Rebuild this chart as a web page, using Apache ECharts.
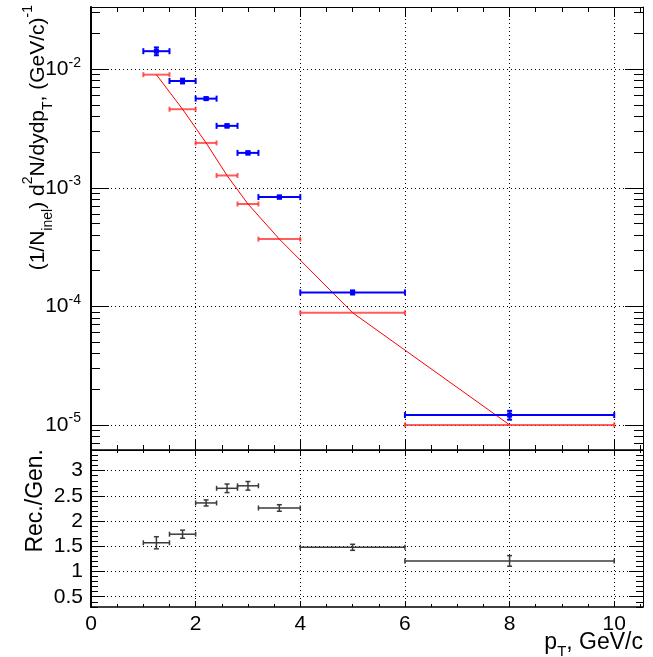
<!DOCTYPE html>
<html><head><meta charset="utf-8">
<script src="https://cdn.jsdelivr.net/npm/echarts@6/dist/echarts.min.js"></script>
<style>html,body{margin:0;padding:0;background:#fff}#c{width:653px;height:657px}</style>
</head><body><div id="c"></div>
<script>
// ---- data ----
const binLow = [1, 1.5, 2, 2.4, 2.8, 3.2, 4, 6];
const binHigh = [1.5, 2, 2.4, 2.8, 3.2, 4, 6, 10];
const binCenter = [1.25, 1.75, 2.2, 2.6, 3.0, 3.6, 5, 8];
const recValues = [0.0142, 0.00796, 0.00565, 0.00333, 0.00197, 0.000835, 0.000131, 0.0000121];
const recErrors = [0.00108, 0.00037, 0.00014, 0.000107, 0.000061, 0.000024, 0.0000052, 0.00000104];
const genValues = [0.0090, 0.0046, 0.00239, 0.00127, 0.00073, 0.000369, 0.0000883, 0.0000100];
const genErrors = [0, 0, 0, 0, 0, 0, 0, 0];
const ratioValues = [1.57, 1.74, 2.36, 2.65, 2.70, 2.26, 1.48, 1.21];
const ratioErrors = [0.12, 0.08, 0.06, 0.085, 0.085, 0.065, 0.06, 0.105];
// ---- ticks ----
const xMajorTicks = [0, 2, 4, 6, 8, 10];
const xMinorTicks = [0.5, 1, 1.5, 2.5, 3, 3.5, 4.5, 5, 5.5, 6.5, 7, 7.5, 8.5, 9, 9.5, 10.5];
const xLabels = ['0', '2', '4', '6', '8', '10'];
const yLogMajorTicks = [1e-5, 1e-4, 1e-3, 1e-2];
const yLogMinorTicks = [7e-6, 8e-6, 9e-6,
  2e-5, 3e-5, 4e-5, 5e-5, 6e-5, 7e-5, 8e-5, 9e-5,
  2e-4, 3e-4, 4e-4, 5e-4, 6e-4, 7e-4, 8e-4, 9e-4,
  2e-3, 3e-3, 4e-3, 5e-3, 6e-3, 7e-3, 8e-3, 9e-3,
  2e-2, 3e-2];
const ratioMajorTicks = [0.5, 1, 1.5, 2, 2.5, 3];
const ratioMinorTicks = [0.3, 0.4, 0.6, 0.7, 0.8, 0.9, 1.1, 1.2, 1.3, 1.4, 1.6, 1.7, 1.8, 1.9,
  2.1, 2.2, 2.3, 2.4, 2.6, 2.7, 2.8, 2.9, 3.1, 3.2, 3.3, 3.4];

const X_MIN = 0, X_MAX = 10.55;
const Y_MIN = 6.14e-6, Y_MAX = 0.0335;
const R_MIN = 0.296, R_MAX = 3.41;

const FONT = 'Liberation Sans, Arial, Helvetica, sans-serif';

function rows(vals, errs) {
  return binCenter.map((c, i) => [c, binLow[i], binHigh[i], vals[i], errs[i]]);
}

function makeRender(o) {
  return function (params, api) {
    const xc = api.value(0), xl = api.value(1), xh = api.value(2), y = api.value(3), e = api.value(4);
    const c = api.coord([xc, y]), l = api.coord([xl, y]), h = api.coord([xh, y]);
    const st = { stroke: o.color, lineWidth: o.width, fill: null };
    const ch = [
      { type: 'line', shape: { x1: l[0], y1: l[1], x2: h[0], y2: h[1] }, style: st },
      { type: 'line', shape: { x1: l[0], y1: l[1] - o.cap, x2: l[0], y2: l[1] + o.cap }, style: st },
      { type: 'line', shape: { x1: h[0], y1: h[1] - o.cap, x2: h[0], y2: h[1] + o.cap }, style: st }
    ];
    if (e > 0) {
      const t = api.coord([xc, y + e]), b = api.coord([xc, y - e]);
      ch.push({ type: 'line', shape: { x1: t[0], y1: t[1], x2: b[0], y2: b[1] }, style: st });
      ch.push({ type: 'line', shape: { x1: t[0] - o.vcap, y1: t[1], x2: t[0] + o.vcap, y2: t[1] }, style: st });
      ch.push({ type: 'line', shape: { x1: b[0] - o.vcap, y1: b[1], x2: b[0] + o.vcap, y2: b[1] }, style: st });
    }
    if (o.marker) {
      const m = o.marker;
      ch.push({ type: 'rect', shape: { x: c[0] - m, y: c[1] - m, width: 2 * m, height: 2 * m }, style: { fill: o.color } });
    }
    return { type: 'group', children: ch };
  };
}

const dotted = { color: '#000', width: 1, type: [1, 3] };

function xAxisSet(grid, tickMaj, tickMin, withLabels) {
  return [
    { gridIndex: grid, type: 'value', min: X_MIN, max: X_MAX, position: 'bottom',
      axisLine: { show: true, onZero: false, lineStyle: { color: '#000', width: 1.5 } },
      axisTick: { show: true, inside: true, length: tickMaj, customValues: xMajorTicks, lineStyle: { color: '#000' } },
      axisLabel: withLabels ? { show: true, customValues: xMajorTicks, fontSize: 21, fontFamily: FONT, color: '#000', margin: 7,
        formatter: v => xLabels[xMajorTicks.indexOf(Math.round(v))] } : { show: false },
      splitLine: { show: true, lineStyle: dotted } },
    { gridIndex: grid, type: 'value', min: X_MIN, max: X_MAX, position: 'bottom',
      axisLine: { show: false, onZero: false },
      axisTick: { show: true, inside: true, length: tickMin, customValues: xMinorTicks, lineStyle: { color: '#000' } },
      axisLabel: { show: false }, splitLine: { show: false } },
    { gridIndex: grid, type: 'value', min: X_MIN, max: X_MAX, position: 'top',
      axisLine: { show: true, onZero: false, lineStyle: { color: '#000', width: 1 } },
      axisTick: { show: true, inside: true, length: tickMaj, customValues: xMajorTicks, lineStyle: { color: '#000' } },
      axisLabel: { show: false }, splitLine: { show: false } },
    { gridIndex: grid, type: 'value', min: X_MIN, max: X_MAX, position: 'top',
      axisLine: { show: false, onZero: false },
      axisTick: { show: true, inside: true, length: tickMin, customValues: xMinorTicks, lineStyle: { color: '#000' } },
      axisLabel: { show: false }, splitLine: { show: false } }
  ];
}

function yAxisSet(grid, type, min, max, maj, minr, tickMaj, tickMin, label) {
  const base = { gridIndex: grid, type: type, min: min, max: max };
  if (type === 'log') base.logBase = 10;
  return [
    Object.assign({}, base, { position: 'left',
      axisLine: { show: true, onZero: false, lineStyle: { color: '#000', width: 2 } },
      axisTick: { show: true, inside: true, length: tickMaj, customValues: maj, lineStyle: { color: '#000' } },
      axisLabel: label, splitLine: { show: true, lineStyle: dotted } }),
    Object.assign({}, base, { position: 'left',
      axisLine: { show: false, onZero: false },
      axisTick: { show: true, inside: true, length: tickMin, customValues: minr, lineStyle: { color: '#000' } },
      axisLabel: { show: false }, splitLine: { show: false } }),
    Object.assign({}, base, { position: 'right',
      axisLine: { show: true, onZero: false, lineStyle: { color: '#000', width: 1 } },
      axisTick: { show: true, inside: true, length: tickMaj, customValues: maj, lineStyle: { color: '#000' } },
      axisLabel: { show: false }, splitLine: { show: false } }),
    Object.assign({}, base, { position: 'right',
      axisLine: { show: false, onZero: false },
      axisTick: { show: true, inside: true, length: tickMin, customValues: minr, lineStyle: { color: '#000' } },
      axisLabel: { show: false }, splitLine: { show: false } })
  ];
}

const logLabel = {
  show: true, customValues: yLogMajorTicks, margin: 10, color: '#000',
  formatter: v => '{b|10}{s|' + Math.round(Math.log10(v)) + '}',
  rich: {
    b: { fontSize: 21, fontFamily: FONT, color: '#000', lineHeight: 27 },
    s: { fontSize: 14, fontFamily: FONT, color: '#000', lineHeight: 14, verticalAlign: 'top' }
  }
};
const ratioLabel = {
  show: true, customValues: ratioMajorTicks, margin: 8, color: '#000', fontSize: 21, fontFamily: FONT,
  formatter: v => String(v)
};

const titleRich = {
  n: { fontSize: 21, fontFamily: FONT, color: '#000', lineHeight: 34 },
  sub: { fontSize: 14, fontFamily: FONT, color: '#000', lineHeight: 14, verticalAlign: 'bottom' },
  sup: { fontSize: 14, fontFamily: FONT, color: '#000', lineHeight: 14, verticalAlign: 'top' }
};
const titleRich2 = {
  n: { fontSize: 23, fontFamily: FONT, color: '#000', lineHeight: 32 },
  sub: { fontSize: 15, fontFamily: FONT, color: '#000', lineHeight: 15, verticalAlign: 'bottom' }
};

const option = {
  animation: false,
  backgroundColor: '#fff',
  grid: [
    { left: 91, top: 7, width: 552, height: 443 },
    { left: 91, top: 450, width: 552, height: 157 }
  ],
  xAxis: [].concat(xAxisSet(0, 10, 5, false), xAxisSet(1, 6, 3, true)),
  yAxis: [].concat(
    yAxisSet(0, 'log', Y_MIN, Y_MAX, yLogMajorTicks, yLogMinorTicks, 18, 9, logLabel),
    yAxisSet(1, 'value', R_MIN, R_MAX, ratioMajorTicks, ratioMinorTicks, 14, 7, ratioLabel)
  ),
  series: [
    { type: 'custom', name: 'gen', xAxisIndex: 0, yAxisIndex: 0, encode: { x: 0, y: 3 }, clip: true,
      renderItem: makeRender({ color: 'rgba(255,40,40,0.75)', width: 2, cap: 2.5, vcap: 2.5, marker: 0 }),
      data: rows(genValues, genErrors), z: 2 },
    { type: 'line', name: 'genLine', xAxisIndex: 0, yAxisIndex: 0, showSymbol: false, symbol: 'none',
      lineStyle: { color: '#ff0000', width: 1 },
      data: binCenter.map((c, i) => [c, genValues[i]]), z: 3 },
    { type: 'custom', name: 'rec', xAxisIndex: 0, yAxisIndex: 0, encode: { x: 0, y: 3 }, clip: true,
      renderItem: makeRender({ color: '#0000ff', width: 2, cap: 3, vcap: 2.5, marker: 2.5 }),
      data: rows(recValues, recErrors), z: 4 },
    { type: 'custom', name: 'ratio', xAxisIndex: 4, yAxisIndex: 4, encode: { x: 0, y: 3 }, clip: true,
      renderItem: makeRender({ color: '#3a3a3a', width: 1.5, cap: 2.5, vcap: 2.5, marker: 0 }),
      data: rows(ratioValues, ratioErrors), z: 4 }
  ],
  graphic: [
    { type: 'text', x: 38, y: 5, rotation: Math.PI / 2, z: 100,
      style: { text: '{n|(1/N}{sub|inel}{n|) d}{sup|2}{n|N/dydp}{sub|T}{n|, (GeV/c)}{sup|-1}',
        rich: titleRich, align: 'right', verticalAlign: 'middle', fill: '#000' } },
    { type: 'text', x: 36, y: 449, rotation: Math.PI / 2, z: 100,
      style: { text: '{n|Rec./Gen.}', rich: titleRich2, align: 'right', verticalAlign: 'middle', fill: '#000' } },
    { type: 'text', x: 643, y: 643, z: 100,
      style: { text: '{n|p}{sub|T}{n|, GeV/c}', rich: titleRich2, align: 'right', verticalAlign: 'middle', fill: '#000' } }
  ]
};

const chart = echarts.init(document.getElementById('c'), null, { renderer: 'canvas' });
chart.setOption(option);
</script>
</body></html>
